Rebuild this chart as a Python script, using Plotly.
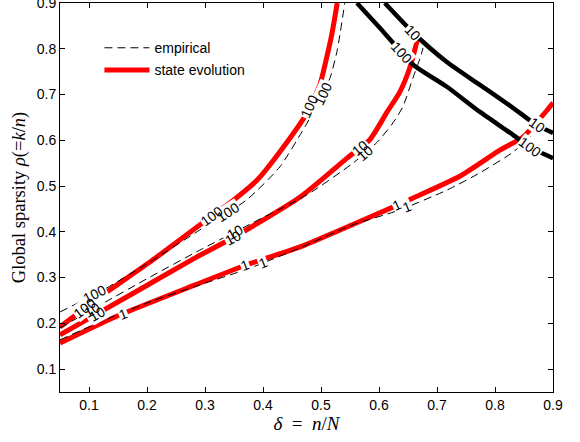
import numpy as np
import plotly.graph_objects as go

# ---- state evolution contours (delta = n/N, rho = k/n) ----
se_1_delta = [0.05, 0.145, 0.283, 0.372, 0.464, 0.533, 0.624, 0.659, 0.740, 0.809, 0.848, 0.890, 0.900]
se_1_rho = [0.157, 0.214, 0.284, 0.328, 0.367, 0.404, 0.454, 0.474, 0.522, 0.579, 0.607, 0.666, 0.682]

se_10_delta = [0.05, 0.171, 0.283, 0.348, 0.464, 0.545, 0.584, 0.614, 0.636, 0.653, 0.667]
se_10_rho = [0.175, 0.262, 0.343, 0.387, 0.476, 0.561, 0.601, 0.662, 0.706, 0.758, 0.824]

se_100_delta = [0.05, 0.119, 0.205, 0.291, 0.350, 0.390, 0.441, 0.476, 0.498, 0.510, 0.519, 0.528]
se_100_rho = [0.192, 0.258, 0.334, 0.415, 0.470, 0.513, 0.595, 0.660, 0.721, 0.782, 0.834, 0.900]

# upper branch of the state evolution contours
up_10_delta = [0.610, 0.659, 0.717, 0.774, 0.831, 0.872, 0.900]
up_10_rho = [0.900, 0.835, 0.771, 0.721, 0.671, 0.633, 0.616]

up_100_delta = [0.562, 0.602, 0.659, 0.717, 0.774, 0.831, 0.860, 0.900]
up_100_rho = [0.900, 0.845, 0.765, 0.717, 0.662, 0.612, 0.585, 0.561]

# ---- empirical contours ----
emp_1_delta = [0.05, 0.119, 0.205, 0.291, 0.378, 0.464, 0.550, 0.636, 0.717, 0.774, 0.831, 0.869, 0.878]
emp_1_rho = [0.164, 0.203, 0.247, 0.284, 0.321, 0.365, 0.413, 0.448, 0.491, 0.529, 0.574, 0.616, 0.627]

emp_10_delta = [0.05, 0.119, 0.205, 0.291, 0.378, 0.476, 0.555, 0.597, 0.624, 0.641, 0.659, 0.671, 0.676]
emp_10_rho = [0.190, 0.240, 0.301, 0.360, 0.417, 0.481, 0.550, 0.596, 0.638, 0.673, 0.738, 0.780, 0.802]

emp_100_delta = [0.05, 0.119, 0.205, 0.291, 0.372, 0.429, 0.472, 0.498, 0.516, 0.528, 0.541]
emp_100_rho = [0.225, 0.269, 0.334, 0.404, 0.470, 0.542, 0.629, 0.688, 0.738, 0.797, 0.900]

# contour label positions (delta values along each curve)
lab_se_1 = [0.159, 0.369, 0.631]
lab_se_10 = [0.114, 0.348, 0.567]
lab_se_100 = [0.093, 0.312, 0.481]
lab_up_10 = [0.659, 0.872]
lab_up_100 = [0.640, 0.860]
lab_emp_1 = [0.400, 0.648]
lab_emp_10 = [0.105, 0.352, 0.576]
lab_emp_100 = [0.110, 0.340, 0.503]

tick_vals = [0.1, 0.2, 0.3, 0.4, 0.5, 0.6, 0.7, 0.8, 0.9]
tick_text = ["0.1", "0.2", "0.3", "0.4", "0.5", "0.6", "0.7", "0.8", "0.9"]

x_range = [0.05, 0.9]
y_range = [0.05, 0.9]
W, H = 580, 442
margin = dict(l=60, r=27, t=3, b=50)

sans = "Liberation Sans, Arial, sans-serif"
serif = "Liberation Serif, Times New Roman, serif"

fig = go.Figure()

red = "#ff0000"
for xs, ys, show in [(se_100_delta, se_100_rho, True),
                     (se_10_delta, se_10_rho, False),
                     (se_1_delta, se_1_rho, False)]:
    fig.add_trace(go.Scatter(x=xs, y=ys, mode="lines",
                             line=dict(color=red, width=5, shape="spline", smoothing=0.6),
                             name="state evolution", legendgroup="se",
                             legendrank=2, showlegend=show))

for xs, ys in [(up_10_delta, up_10_rho), (up_100_delta, up_100_rho)]:
    fig.add_trace(go.Scatter(x=xs, y=ys, mode="lines",
                             line=dict(color="black", width=4.5, shape="spline", smoothing=0.6),
                             showlegend=False))

for xs, ys, show in [(emp_100_delta, emp_100_rho, True),
                     (emp_10_delta, emp_10_rho, False),
                     (emp_1_delta, emp_1_rho, False)]:
    fig.add_trace(go.Scatter(x=xs, y=ys, mode="lines",
                             line=dict(color="black", width=1, dash="8px,5px",
                                       shape="spline", smoothing=0.6),
                             name="empirical", legendgroup="emp",
                             legendrank=1, showlegend=show))

# pixels per data unit, used to orient labels along the curves
kx = (W - margin["l"] - margin["r"]) / (x_range[1] - x_range[0])
ky = (H - margin["t"] - margin["b"]) / (y_range[1] - y_range[0])

labels = [
    (se_1_delta, se_1_rho, lab_se_1, "1"),
    (se_10_delta, se_10_rho, lab_se_10, "10"),
    (se_100_delta, se_100_rho, lab_se_100, "100"),
    (up_10_delta, up_10_rho, lab_up_10, "10"),
    (up_100_delta, up_100_rho, lab_up_100, "100"),
    (emp_1_delta, emp_1_rho, lab_emp_1, "1"),
    (emp_10_delta, emp_10_rho, lab_emp_10, "10"),
    (emp_100_delta, emp_100_rho, lab_emp_100, "100"),
]

placed = []
for xs, ys, positions, text in labels:
    xs_a, ys_a = np.asarray(xs), np.asarray(ys)
    for p in positions:
        yv = float(np.interp(p, xs_a, ys_a))
        i = int(np.clip(np.searchsorted(xs_a, p), 1, len(xs_a) - 1))
        dx = xs_a[i] - xs_a[i - 1]
        dy = ys_a[i] - ys_a[i - 1]
        ang = -np.degrees(np.arctan2(dy * ky, dx * kx))
        placed.append((p, yv, ang, text))

# white patches that break the lines under each label
for p, yv, ang, text in placed:
    fig.add_annotation(x=p, y=yv, text=text, textangle=ang, showarrow=False,
                       font=dict(family=sans, size=14, color="rgba(0,0,0,0)"),
                       bgcolor="white", borderpad=0)
# the label text itself
for p, yv, ang, text in placed:
    fig.add_annotation(x=p, y=yv, text=text, textangle=ang, showarrow=False,
                       font=dict(family=sans, size=14, color="black"))

axis_common = dict(showgrid=False, zeroline=False, showline=True, linecolor="black",
                   linewidth=1, mirror="ticks", ticks="inside", ticklen=5,
                   tickcolor="black", tickfont=dict(family=sans, size=14, color="black"),
                   tickmode="array", tickvals=tick_vals, ticktext=tick_text,
                   ticklabeloverflow="allow", automargin=False)

fig.update_layout(
    width=W, height=H, margin=margin,
    paper_bgcolor="white", plot_bgcolor="white",
    xaxis=dict(range=x_range,
               title=dict(text="<i>δ</i>\u00a0\u00a0=\u00a0\u00a0<i>n</i>/<i>N</i>",
                          font=dict(family=serif, size=19, color="black"),
                          standoff=4),
               **axis_common),
    yaxis=dict(range=y_range,
               title=dict(text="Global sparsity <i>ρ</i>(=<i>k</i>/<i>n</i>)",
                          font=dict(family=serif, size=18.5, color="black"),
                          standoff=6),
               **axis_common),
    legend=dict(x=0.08, y=0.925, xanchor="left", yanchor="top",
                bgcolor="rgba(0,0,0,0)", borderwidth=0,
                font=dict(family=sans, size=14, color="black"),
                itemwidth=45, tracegroupgap=1),
    showlegend=True,
)

fig.write_html("out.html")
